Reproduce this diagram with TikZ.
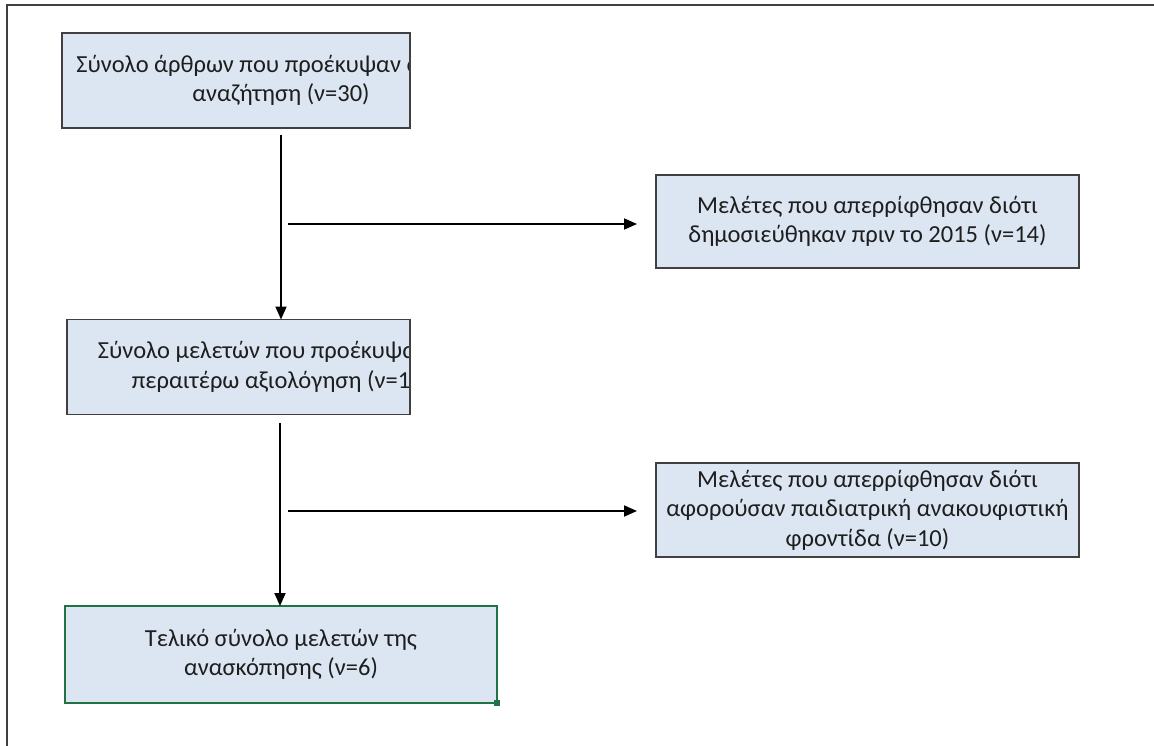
\documentclass[tikz,border=0pt]{standalone}
\usepackage{fontspec}
\setmainfont{Carlito}
\usepackage{tikz}
\usetikzlibrary{arrows.meta,calc,positioning}
\definecolor{boxfill}{RGB}{220,230,242}
\definecolor{boxline}{RGB}{64,64,64}
\definecolor{selgreen}{RGB}{33,115,70}
\definecolor{txt}{RGB}{30,30,30}

\begin{document}
\begin{tikzpicture}[x=1pt,y=-1pt,
  stagebox/.style={draw=boxline,line width=1.5pt,fill=boxfill,align=center,inner sep=0pt,outer sep=0pt,
    font=\fontsize{24.5}{29.5}\selectfont,text=txt},
  boxtext/.style={align=center,inner sep=0pt,font=\fontsize{24.5}{29.5}\selectfont,text=txt},
  flowarrow/.style={line width=1.8pt,-{Triangle[length=13pt,width=11pt]}}]
  \useasboundingbox (0,0) rectangle (1154,746);
  \draw[line width=2pt,boxline] (7,746)--(7,5)--(1154,5);
  % left column: text wider than the box, cut at its edge
  \node[stagebox,minimum width=348pt,minimum height=95pt] (total) at (236,80.5) {};
  \begin{scope}
    \clip (total.south west) rectangle (total.north east);
    \node[boxtext] (totaltext) at (281,80.5)
      {Σύνολο άρθρων που προέκυψαν από την\\αναζήτηση (ν=30)};
  \end{scope}
  \node[stagebox,minimum width=343pt,minimum height=95pt] (screen) at (238.5,367) {};
  \begin{scope}
    \clip (screen.south west) rectangle (screen.north east);
    \node[boxtext] (screentext) at (281,367)
      {Σύνολο μελετών που προέκυψαν για\\περαιτέρω αξιολόγηση (ν=16)};
  \end{scope}
  \draw[boxline,line width=1.5pt] (total.south west) rectangle (total.north east);
  \draw[boxline,line width=1.5pt] (screen.south west) rectangle (screen.north east);
  \node[stagebox,draw=selgreen,minimum width=432pt,minimum height=97pt] (final) at (281,654.5)
    {Τελικό σύνολο μελετών της\\ανασκόπησης (ν=6)};
  \fill[selgreen] ($(final.south east)+(-3,-3)$) rectangle ++(6,6);
  % right column
  \node[stagebox,minimum width=423pt,minimum height=93pt] (excl1) at (867.5,221.5)
    {Μελέτες που απερρίφθησαν διότι\\δημοσιεύθηκαν πριν το 2015 (ν=14)};
  \node[stagebox,minimum width=423pt,minimum height=94pt] (excl2) at (867.5,510)
    {Μελέτες που απερρίφθησαν διότι\\αφορούσαν παιδιατρική ανακουφιστική\\φροντίδα (ν=10)};
  % free ends of the connectors
  \coordinate (v1) at (281,135);
  \coordinate (v2) at (280,423);
  \coordinate (h1) at (288,224);
  \coordinate (h2) at (288,511);
  \draw[flowarrow] (v1) -- (v1 |- screen.north);
  \draw[flowarrow] (h1) -- ($(h1 -| excl1.west)+(-19,0)$);
  \draw[flowarrow] (v2) -- (v2 |- final.north);
  \draw[flowarrow] (h2) -- ($(h2 -| excl2.west)+(-19,0)$);
\end{tikzpicture}
\end{document}
